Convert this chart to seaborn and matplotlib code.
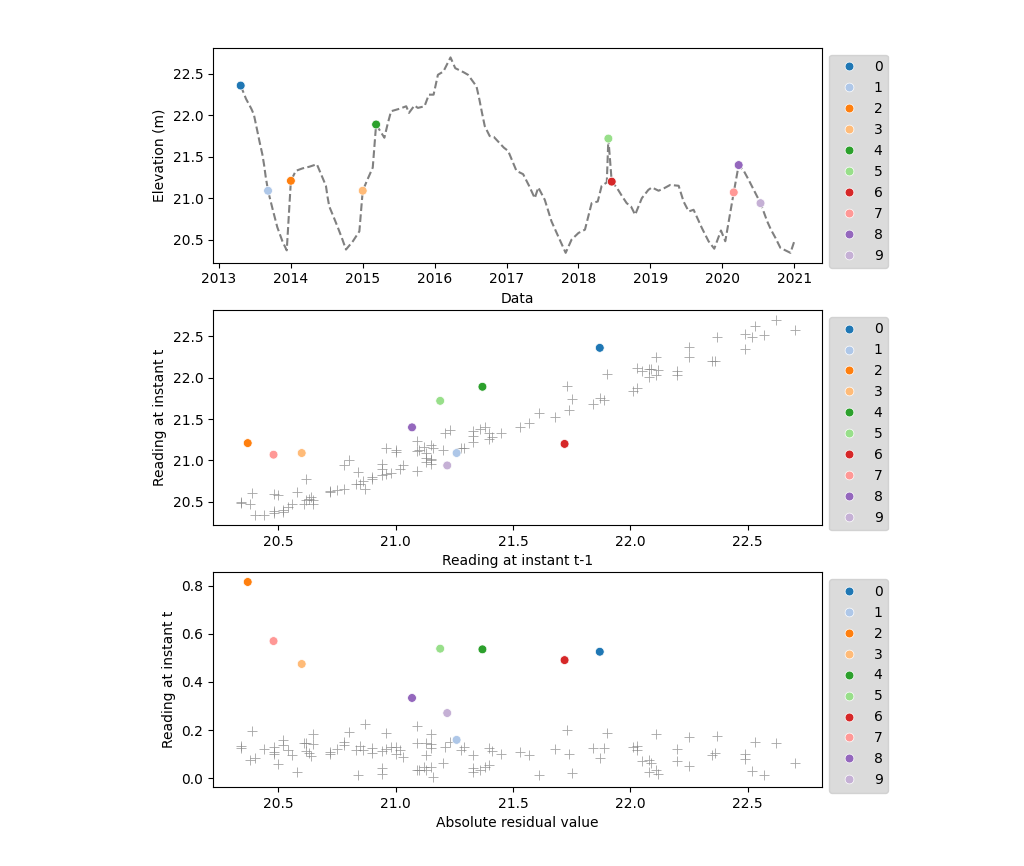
import pandas as pd
import numpy as np
import seaborn as sns
import matplotlib.pyplot as plt

# Elevation readings (m)
dates = [
    "2013-03-20", "2013-04-21", "2013-05-18", "2013-06-14", "2013-06-27", "2013-07-12",
    "2013-07-26", "2013-08-09", "2013-08-18", "2013-08-26", "2013-09-07", "2013-09-30",
    "2013-10-24", "2013-11-19", "2013-12-11", "2014-01-01", "2014-01-26", "2014-03-01",
    "2014-04-05", "2014-05-13", "2014-06-05", "2014-06-28", "2014-07-06", "2014-07-15",
    "2014-08-05", "2014-08-27", "2014-09-17", "2014-10-08", "2014-11-12", "2014-12-15",
    "2015-01-01", "2015-01-26", "2015-02-21", "2015-03-10", "2015-04-21", "2015-05-08",
    "2015-05-25", "2015-07-07", "2015-08-10", "2015-08-24", "2015-09-21", "2015-10-08",
    "2015-11-11", "2015-12-03", "2015-12-27", "2016-01-07", "2016-01-18", "2016-02-15",
    "2016-03-05", "2016-03-22", "2016-04-15", "2016-05-28", "2016-06-19", "2016-08-01",
    "2016-08-15", "2016-08-29", "2016-09-12", "2016-10-07", "2016-10-28", "2016-12-18",
    "2017-01-09", "2017-01-30", "2017-02-20", "2017-03-26", "2017-04-25", "2017-05-24",
    "2017-06-11", "2017-07-14", "2017-07-31", "2017-08-17", "2017-09-03", "2017-09-20",
    "2017-10-09", "2017-10-28", "2017-11-27", "2018-01-01", "2018-02-03", "2018-02-20",
    "2018-03-09", "2018-04-09", "2018-04-29", "2018-05-25", "2018-06-02", "2018-06-19",
    "2018-07-14", "2018-08-09", "2018-09-03", "2018-09-25", "2018-10-16", "2018-11-19",
    "2018-12-22", "2019-01-09", "2019-02-12", "2019-03-12", "2019-04-12", "2019-05-25",
    "2019-06-19", "2019-07-15", "2019-08-09", "2019-08-30", "2019-09-20", "2019-10-07",
    "2019-10-24", "2019-11-22", "2019-12-26", "2020-01-17", "2020-02-29", "2020-03-25",
    "2020-04-20", "2020-05-15", "2020-07-14", "2020-07-31", "2020-08-17", "2020-09-05",
    "2020-09-28", "2020-10-23", "2020-12-13", "2021-01-03",
]
elevation = [
    21.87, 22.36, 22.20, 22.08, 22.01, 21.84,
    21.68, 21.53, 21.40, 21.26, 21.09, 20.87,
    20.65, 20.48, 20.37, 21.21, 21.33, 21.36,
    21.38, 21.41, 21.28, 21.15, 21.02, 20.90,
    20.78, 20.65, 20.52, 20.38, 20.48, 20.60,
    21.09, 21.23, 21.37, 21.89, 21.73, 21.90,
    22.05, 22.08, 22.11, 22.03, 22.12, 22.09,
    22.11, 22.25, 22.25, 22.37, 22.49, 22.53,
    22.62, 22.70, 22.57, 22.52, 22.49, 22.35,
    22.20, 22.03, 21.87, 21.75, 21.74, 21.61,
    21.57, 21.45, 21.33, 21.29, 21.15, 21.00,
    21.13, 20.98, 20.85, 20.72, 20.63, 20.54,
    20.44, 20.34, 20.50, 20.58, 20.62, 20.78,
    20.94, 20.96, 21.15, 21.19, 21.72, 21.20,
    21.13, 21.03, 20.94, 20.90, 20.80, 21.00,
    21.10, 21.13, 21.09, 21.12, 21.16, 21.15,
    20.96, 20.84, 20.86, 20.75, 20.64, 20.56,
    20.48, 20.39, 20.61, 20.48, 21.07, 21.40,
    21.33, 21.22, 20.94, 20.83, 20.72, 20.62,
    20.52, 20.40, 20.34, 20.49,
]

# Dates flagged as anomalies (labelled 0-9 in time order)
anomaly_dates = [
    "2013-04-21", "2013-09-07", "2014-01-01", "2015-01-01", "2015-03-10",
    "2018-06-02", "2018-06-19", "2020-02-29", "2020-03-25", "2020-07-14",
]

# Build the frame and the lag / residual columns
df = pd.DataFrame({'Data': pd.to_datetime(dates), 'Elevation': elevation})
df['Lag'] = df['Elevation'].shift(1)
df = df.dropna().reset_index(drop=True)

slope, intercept = np.polyfit(df['Lag'], df['Elevation'], 1)
df['Residual'] = (df['Elevation'] - (slope * df['Lag'] + intercept)).abs()

is_anomaly = df['Data'].isin(pd.to_datetime(anomaly_dates))
anomalies = df[is_anomaly].copy()
anomalies['Label'] = [str(i) for i in range(len(anomalies))]
normal = df[~is_anomaly]

labels = [str(i) for i in range(10)]
palette = sns.color_palette('tab20', 10)

fig, axs = plt.subplots(3, 1, figsize=(10.24, 8.66))
fig.subplots_adjust(left=0.208, right=0.803, top=0.945, bottom=0.091, hspace=0.22)

# Time series with anomalies
sns.lineplot(data=df, x='Data', y='Elevation', color='gray', linestyle='--', ax=axs[0])
sns.scatterplot(data=anomalies, x='Data', y='Elevation', hue='Label', hue_order=labels,
                palette=palette, s=40, zorder=3, ax=axs[0])
axs[0].set_xlabel('Data')
axs[0].set_ylabel('Elevation (m)')

# Lag plot
sns.scatterplot(data=normal, x='Lag', y='Elevation', marker='+', color='gray',
                s=60, alpha=0.7, ax=axs[1])
sns.scatterplot(data=anomalies, x='Lag', y='Elevation', hue='Label', hue_order=labels,
                palette=palette, s=40, zorder=3, ax=axs[1])
axs[1].set_xlabel('Reading at instant t-1')
axs[1].set_ylabel('Reading at instant t')

# Residuals
sns.scatterplot(data=normal, x='Lag', y='Residual', marker='+', color='gray',
                s=60, alpha=0.7, ax=axs[2])
sns.scatterplot(data=anomalies, x='Lag', y='Residual', hue='Label', hue_order=labels,
                palette=palette, s=40, zorder=3, ax=axs[2])
axs[2].set_xlabel('Absolute residual value')
axs[2].set_ylabel('Reading at instant t')

for ax in axs:
    ax.legend(loc='upper left', bbox_to_anchor=(1.0, 1.0), facecolor='lightgray')

plt.savefig('out.png', dpi=100)
